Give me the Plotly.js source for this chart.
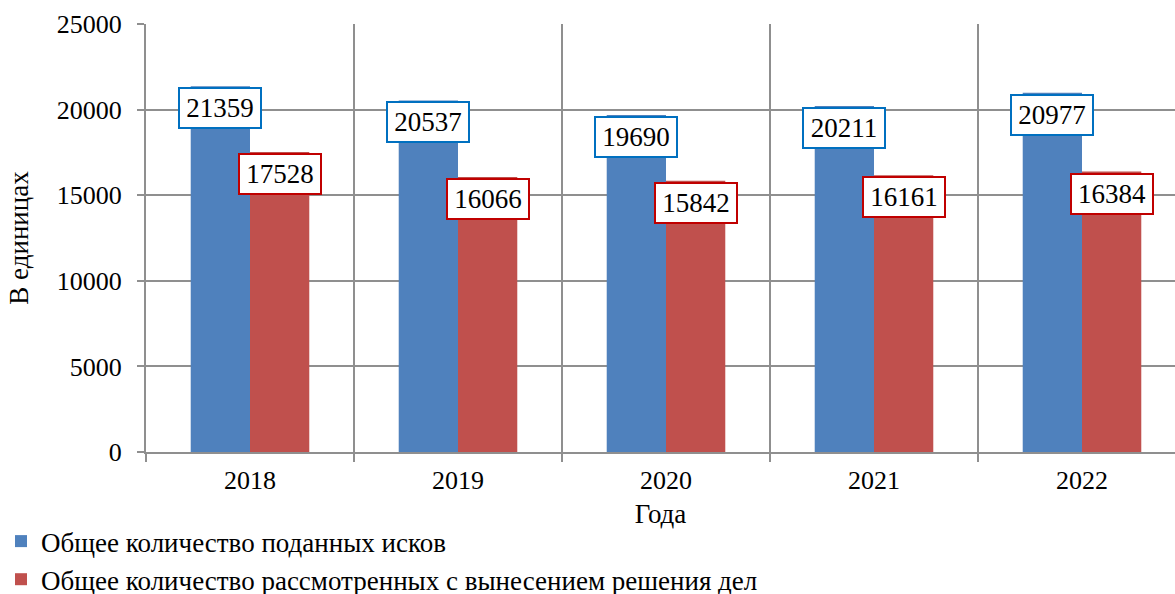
<!DOCTYPE html>
<html>
<head>
<meta charset="utf-8">
<script src="https://cdn.plot.ly/plotly-3.0.1.min.js"></script>
<style>html,body{margin:0;padding:0;background:#fff;}#chart{width:1175px;height:594px;}</style>
</head>
<body>
<div id="chart"></div>
<script>
const years = ["2018", "2019", "2020", "2021", "2022"];
const filedClaims = [21359, 20537, 19690, 20211, 20977];
const decidedCases = [17528, 16066, 15842, 16161, 16384];
const seriesNames = ["Общее количество поданных исков", "Общее количество рассмотренных с вынесением решения дел"];
const yTicks = [0, 5000, 10000, 15000, 20000, 25000];

const FONT = "Liberation Serif";
const GRID = "#8f8f8f";
const colors = ["#4F81BD", "#C0504D"];
const borders = ["#0070C0", "#C00000"];

const traces = [filedClaims, decidedCases].map((vals, k) => ({
  type: "bar",
  x: years,
  y: vals,
  name: seriesNames[k],
  marker: {color: colors[k], line: {width: 0}},
  hoverinfo: "skip"
}));

const bargap = 0.43;
const half = (1 - bargap) / 4;
const annotations = [];
[filedClaims, decidedCases].forEach((vals, k) => {
  vals.forEach((v, i) => {
    annotations.push({
      x: i + (k === 0 ? -half : half),
      y: v,
      xref: "x", yref: "y",
      text: String(v),
      showarrow: false,
      xanchor: "center", yanchor: "top",
      yshift: -1,
      font: {family: FONT, size: 27, color: "#000"},
      bgcolor: "#ffffff",
      bordercolor: borders[k],
      borderwidth: 2,
      borderpad: 2,
      width: 76,
      height: 34
    });
  });
});

const layout = {
  width: 1175, height: 594,
  margin: {l: 146, r: 0, t: 24, b: 142, autoexpand: false},
  paper_bgcolor: "#fff", plot_bgcolor: "#fff",
  barmode: "group",
  bargap: bargap,
  bargroupgap: 0,
  font: {family: FONT, size: 24, color: "#000"},
  showlegend: true,
  legend: {
    orientation: "v",
    x: -0.1409, y: -0.152, xanchor: "left", yanchor: "top",
    font: {family: FONT, size: 27, color: "#000"},
    itemwidth: 30,
    tracegroupgap: 0
  },
  xaxis: {
    type: "category",
    range: [-0.5, -0.5 + 1029 / 208],
    tickson: "boundaries",
    ticks: "outside", ticklen: 8, tickwidth: 2, tickcolor: GRID,
    ticklabelstandoff: 4,
    showgrid: true, gridcolor: GRID, gridwidth: 2,
    showline: true, linecolor: GRID, linewidth: 2,
    tickfont: {family: FONT, size: 26, color: "#000"},
    title: {text: "Года", font: {family: FONT, size: 27, color: "#000"}, standoff: 10},
    fixedrange: true
  },
  yaxis: {
    range: [0, 25000],
    tickvals: yTicks,
    ticktext: yTicks.map(String),
    ticks: "outside", ticklen: 7, tickwidth: 2, tickcolor: GRID,
    ticklabelstandoff: 10,
    showgrid: true, gridcolor: GRID, gridwidth: 2,
    showline: true, linecolor: GRID, linewidth: 2,
    zeroline: false,
    tickfont: {family: FONT, size: 26, color: "#000"},
    title: {text: "В единицах", font: {family: FONT, size: 27, color: "#000"}, standoff: 20},
    fixedrange: true
  },
  annotations: annotations
};

Plotly.newPlot("chart", traces, layout, {displayModeBar: false, staticPlot: true});
</script>
</body>
</html>
